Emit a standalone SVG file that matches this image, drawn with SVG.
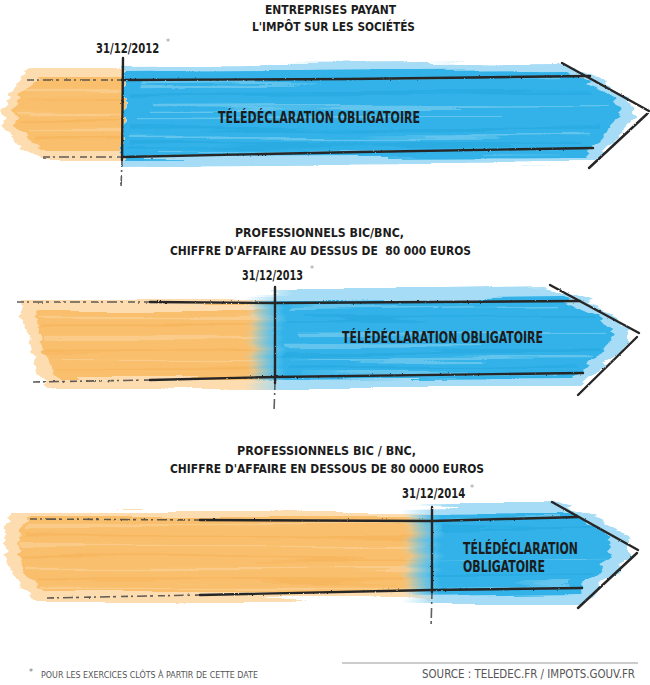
<svg xmlns="http://www.w3.org/2000/svg" width="650" height="685" viewBox="0 0 650 685">
<defs>
<style>
.t{font-family:"DejaVu Sans Condensed","Liberation Sans Narrow","Liberation Sans",sans-serif;font-weight:bold;fill:#1c1c1c}
.ttl{font-size:13px}
.date{font-size:14px}
.lbl{font-size:15px}
.ast{font-family:"DejaVu Sans","Liberation Sans",sans-serif;font-size:8px;font-weight:normal;fill:#999}
.foot{font-family:"DejaVu Sans Condensed","Liberation Sans Narrow","Liberation Sans",sans-serif;fill:#555}
.ol{fill:#fddcb0}
.om{fill:#f9bf6c}
.bl{fill:#a6dcf5}
.bm{fill:#30b2e8}
.sw{stroke:#ffffff;stroke-opacity:.25;stroke-width:2.5;fill:none}
.sd{stroke:#1c9fd8;stroke-opacity:.35;stroke-width:3;fill:none}
.so{stroke:#f6ad4c;stroke-opacity:.4;stroke-width:3;fill:none}
.swo{stroke:#ffffff;stroke-opacity:.2;stroke-width:2.5;fill:none}
.ink{stroke:#262626;stroke-width:2.4;fill:none;stroke-linecap:round;stroke-linejoin:round}
.faint{stroke:#444;stroke-width:1.6;fill:none;stroke-dasharray:7 3 2 4 10 3 3 5;stroke-opacity:.85}
</style>
<filter id="brush" x="-5%" y="-25%" width="110%" height="150%">
<feTurbulence type="fractalNoise" baseFrequency="0.004 0.13" numOctaves="2" seed="7" result="n"/>
<feDisplacementMap in="SourceGraphic" in2="n" scale="16" xChannelSelector="R" yChannelSelector="G"/>
<feGaussianBlur stdDeviation="0.7"/>
</filter>
<filter id="rough" x="-5%" y="-50%" width="110%" height="200%">
<feTurbulence type="fractalNoise" baseFrequency="0.6" numOctaves="1" seed="3" result="n"/>
<feDisplacementMap in="SourceGraphic" in2="n" scale="2.2" xChannelSelector="R" yChannelSelector="G"/>
</filter>
<linearGradient id="g2" gradientUnits="userSpaceOnUse" x1="252" y1="0" x2="285" y2="0">
<stop offset="0" stop-color="#30b2e8" stop-opacity="0"/>
<stop offset="1" stop-color="#30b2e8" stop-opacity="1"/>
</linearGradient>
<linearGradient id="g2l" gradientUnits="userSpaceOnUse" x1="245" y1="0" x2="280" y2="0">
<stop offset="0" stop-color="#a6dcf5" stop-opacity="0"/>
<stop offset="1" stop-color="#a6dcf5" stop-opacity="1"/>
</linearGradient>
<linearGradient id="g3" gradientUnits="userSpaceOnUse" x1="408" y1="0" x2="442" y2="0">
<stop offset="0" stop-color="#30b2e8" stop-opacity="0"/>
<stop offset="1" stop-color="#30b2e8" stop-opacity="1"/>
</linearGradient>
<linearGradient id="g3l" gradientUnits="userSpaceOnUse" x1="402" y1="0" x2="436" y2="0">
<stop offset="0" stop-color="#a6dcf5" stop-opacity="0"/>
<stop offset="1" stop-color="#a6dcf5" stop-opacity="1"/>
</linearGradient>
</defs>
<rect width="650" height="685" fill="#ffffff"/>

<!-- Panel 1 -->
<g id="panel1">
<g id="p1-bands" filter="url(#brush)">
<path class="ol" d="M28,70 L123,70 L123,158 L42,158 L22,148 L6,132 L2,114 L10,96 L18,82 Z"/>
<path class="om" d="M40,78 L123,78 L123,151 L50,151 L30,142 L16,126 L14,108 L22,92 Z"/>
<path class="so" d="M30,100 L123,100 M20,122 L123,122 M35,140 L123,140"/>
<path class="swo" d="M25,90 L123,90 M18,112 L123,112 M30,132 L123,132"/>
<path class="bl" d="M123,65 L555,62 L600,76 L632,104 L634,118 L615,140 L592,163 L123,166 Z"/>
<path class="bm" d="M124,73 L565,70 L605,90 L622,110 L605,135 L585,156 L124,158 Z"/>
<path class="sd" d="M130,95 L590,92 M130,130 L600,128 M130,145 L580,144"/>
<path class="sw" d="M140,84 L560,80 M150,108 L610,106 M135,120 L500,119 M160,152 L560,150 M130,138 L590,136"/>
</g>
<g id="p1-lines" filter="url(#rough)">
<path class="faint" d="M27,80 L122,80 M43,157 L122,157 M122,160 L121,188"/>
<path class="ink" d="M122,80 L350,79 L590,76"/>
<path class="ink" d="M122,157 L360,152 L593,148"/>
<path class="ink" d="M123,58 L122,160"/>
<path class="ink" d="M562,63 L649,111" stroke-width="2.8"/>
<path class="ink" d="M647,114 L589,168" stroke-width="2.8"/>
</g>
<text class="t ttl" x="265" y="14" textLength="131" lengthAdjust="spacingAndGlyphs">ENTREPRISES PAYANT</text>
<text class="t ttl" x="252" y="31" textLength="163" lengthAdjust="spacingAndGlyphs">L'IMPÔT SUR LES SOCIÉTÉS</text>
<text class="t date" transform="translate(96,53) scale(0.8,1)">31/12/2012</text>
<text class="ast" x="166" y="45">*</text>
<text class="t lbl" x="218" y="123" textLength="202" lengthAdjust="spacingAndGlyphs">TÉLÉDÉCLARATION OBLIGATOIRE</text>
</g>

<!-- Panel 2 -->
<g id="panel2">
<g id="p2-bands" filter="url(#brush)">
<path class="ol" d="M22,300 L278,300 L278,387 L48,387 L36,370 L30,340 L20,315 Z"/>
<path class="om" d="M36,308 L272,308 L272,379 L58,379 L44,352 L38,330 Z"/>
<path class="so" d="M40,325 L270,325 M45,350 L270,350 M55,368 L270,368"/>
<path class="swo" d="M40,316 L270,316 M42,338 L270,338 M50,360 L270,360"/>
<path fill="url(#g2l)" d="M245,294 L548,288 L600,305 L628,330 L628,345 L605,365 L580,388 L245,388 Z"/>
<path fill="url(#g2)" d="M252,302 L560,298 L598,315 L615,335 L598,355 L575,378 L252,380 Z"/>
<path class="sd" d="M285,320 L595,318 M285,352 L600,350 M290,368 L575,367"/>
<path class="sw" d="M290,310 L560,306 M300,334 L605,332 M285,344 L480,343 M300,376 L560,374 M290,360 L590,358"/>
</g>
<g id="p2-lines" filter="url(#rough)">
<path class="faint" d="M17,302 L150,302 M33,382 L150,380 M275,383 L274,412"/>
<path class="ink" d="M150,302 L275,303 L580,301"/>
<path class="ink" d="M150,380 L275,377 L583,373"/>
<path class="ink" d="M275,287 L275,383"/>
<path class="ink" d="M550,285 L639,333" stroke-width="2.8"/>
<path class="ink" d="M637,337 L578,395" stroke-width="2.8"/>
</g>
<text class="t ttl" x="235" y="237" textLength="169" lengthAdjust="spacingAndGlyphs">PROFESSIONNELS BIC/BNC,</text>
<text class="t ttl" x="170" y="255" textLength="301" lengthAdjust="spacingAndGlyphs" style="white-space:pre">CHIFFRE D'AFFAIRE AU DESSUS DE  80 000 EUROS</text>
<text class="t date" transform="translate(242,280) scale(0.77,1)">31/12/2013</text>
<text class="ast" x="310" y="272">*</text>
<text class="t lbl" x="342" y="343" textLength="201" lengthAdjust="spacingAndGlyphs">TÉLÉDÉCLARATION OBLIGATOIRE</text>
</g>

<!-- Panel 3 -->
<g id="panel3">
<g id="p3-bands" filter="url(#brush)">
<path class="ol" d="M12,510 L434,510 L434,601 L40,601 L20,586 L6,560 L4,535 Z"/>
<path class="om" d="M30,518 L428,518 L428,593 L45,593 L25,575 L18,550 L20,530 Z"/>
<path class="so" d="M25,535 L425,535 M20,558 L425,558 M35,580 L425,580"/>
<path class="swo" d="M28,526 L425,526 M20,546 L425,546 M25,568 L425,568 M40,588 L425,588"/>
<path fill="url(#g3l)" d="M402,506 L555,503 L600,520 L630,540 L630,555 L610,576 L585,604 L402,604 Z"/>
<path fill="url(#g3)" d="M408,513 L562,512 L600,528 L614,548 L598,570 L578,594 L408,596 Z"/>
<path class="sd" d="M440,530 L595,528 M440,575 L590,573"/>
<path class="sw" d="M445,520 L560,518 M440,560 L605,558 M445,588 L570,586"/>
</g>
<g id="p3-lines" filter="url(#rough)">
<path class="faint" d="M30,519 L200,520 M47,598 L200,595 M432,592 L431,628"/>
<path class="ink" d="M200,520 L432,521 L578,517"/>
<path class="ink" d="M200,595 L432,590 L582,588"/>
<path class="ink" d="M432,507 L432,592"/>
<path class="ink" d="M552,502 L638,550" stroke-width="2.8"/>
<path class="ink" d="M637,553 L578,608" stroke-width="2.8"/>
</g>
<text class="t ttl" x="237" y="455" textLength="179" lengthAdjust="spacingAndGlyphs">PROFESSIONNELS BIC / BNC,</text>
<text class="t ttl" x="170" y="473" textLength="314" lengthAdjust="spacingAndGlyphs">CHIFFRE D'AFFAIRE EN DESSOUS DE 80 0000 EUROS</text>
<text class="t date" transform="translate(402,498) scale(0.8,1)">31/12/2014</text>
<text class="ast" x="470" y="491">*</text>
<text class="t lbl" x="463" y="554" textLength="115" lengthAdjust="spacingAndGlyphs">TÉLÉDÉCLARATION</text>
<text class="t lbl" x="463" y="572" textLength="82" lengthAdjust="spacingAndGlyphs">OBLIGATOIRE</text>
</g>

<!-- Footer -->
<g id="footer">
<text class="foot" x="29" y="678" font-size="9"><tspan fill="#777" dy="-3">*</tspan><tspan x="41" dy="3" textLength="217" lengthAdjust="spacingAndGlyphs">POUR LES EXERCICES CLÔTS À PARTIR DE CETTE DATE</tspan></text>
<line x1="342" y1="663" x2="638" y2="663" stroke="#9a9a9a" stroke-width="1.2"/>
<text class="foot" x="422" y="678" font-size="11.5" textLength="213" lengthAdjust="spacingAndGlyphs">SOURCE : TELEDEC.FR / IMPOTS.GOUV.FR</text>
</g>
</svg>
